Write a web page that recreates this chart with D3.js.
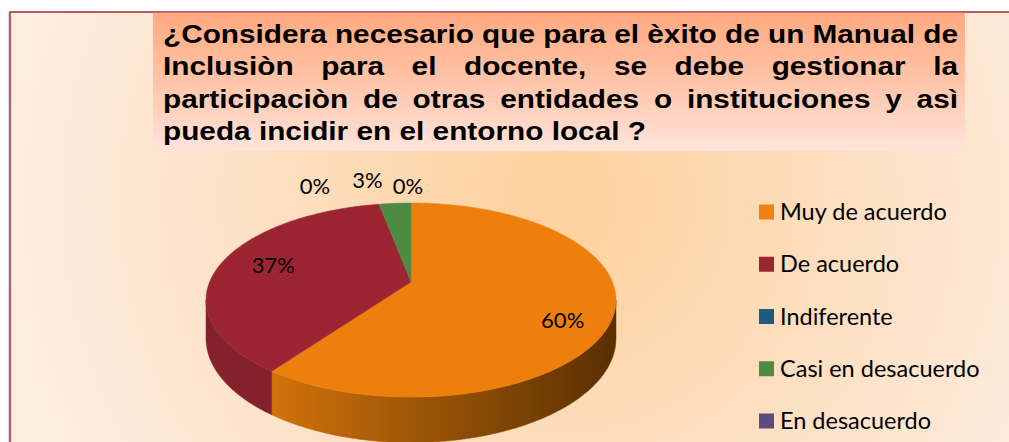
<!DOCTYPE html>
<html>
<head>
<meta charset="utf-8">
<script src="https://cdn.jsdelivr.net/npm/d3@7"></script>
<style>
  body { margin: 0; background: #fff; }
  svg { display: block; }
</style>
</head>
<body>
<svg id="chart"></svg>
<script>
// data
const categories = ["Muy de acuerdo", "De acuerdo", "Indiferente", "Casi en desacuerdo", "En desacuerdo"];
const percents = [60, 37, 0, 3, 0];
const colors = ["#ef7f0d", "#9d2533", "#1f5a80", "#4f8a43", "#5f4a7e"];
const titleLines = [
  "¿Considera necesario que para el èxito de un Manual de",
  "Inclusiòn para el docente, se debe gestionar la",
  "participaciòn de otras entidades o instituciones y asì",
  "pueda incidir en el entorno local ?"
];

const W = 1009, H = 442;
const svg = d3.select("#chart").attr("width", W).attr("height", H);
const defs = svg.append("defs");

// background of the chart area
const bg = defs.append("radialGradient").attr("id", "bg")
  .attr("gradientUnits", "userSpaceOnUse")
  .attr("cx", 560).attr("cy", 200).attr("r", 560);
bg.append("stop").attr("offset", 0).attr("stop-color", "#fdd19c");
bg.append("stop").attr("offset", 0.55).attr("stop-color", "#fde0c3");
bg.append("stop").attr("offset", 1).attr("stop-color", "#fdeee2");

const tg = defs.append("linearGradient").attr("id", "titlebg")
  .attr("x1", 0).attr("y1", 0).attr("x2", 0).attr("y2", 1);
tg.append("stop").attr("offset", 0).attr("stop-color", "#ffa97f");
tg.append("stop").attr("offset", 0.5).attr("stop-color", "#ffc4a8");
tg.append("stop").attr("offset", 1).attr("stop-color", "#fee4dc");

const rimOrange = defs.append("linearGradient").attr("id", "rimOrange")
  .attr("gradientUnits", "userSpaceOnUse")
  .attr("x1", 270).attr("y1", 0).attr("x2", 615).attr("y2", 0);
rimOrange.append("stop").attr("offset", 0).attr("stop-color", "#d2720a");
rimOrange.append("stop").attr("offset", 0.45).attr("stop-color", "#9a5408");
rimOrange.append("stop").attr("offset", 1).attr("stop-color", "#5a3002");

svg.append("line").attr("x1", 8.5).attr("x2", 8.5).attr("y1", 12).attr("y2", H)
  .attr("stroke", "#dcdcdc").attr("stroke-width", 1.5);
svg.append("rect")
  .attr("x", 10).attr("y", 12).attr("width", W + 10).attr("height", H)
  .attr("fill", "url(#bg)")
  .attr("stroke", "#a52a3a").attr("stroke-width", 1.5);

// title block
svg.append("rect")
  .attr("x", 153).attr("y", 12.75).attr("width", 812).attr("height", 138)
  .attr("fill", "url(#titlebg)");

const titleScale = 1.145;
const titleG = svg.append("g")
  .attr("transform", `translate(163,0) scale(${titleScale},1)`)
  .style("font-family", "'Liberation Sans', Arial, sans-serif")
  .style("font-weight", "bold")
  .style("font-size", "26px")
  .attr("fill", "#000");
const lineWidth = 795 / titleScale;
titleLines.forEach((line, li) => {
  const words = line.split(" ");
  const y = 43 + li * 32.3;
  const nodes = words.map(w => titleG.append("text").attr("y", y).text(w));
  const widths = nodes.map(n => n.node().getComputedTextLength());
  const total = d3.sum(widths);
  const last = li === titleLines.length - 1;
  const gap = last ? 26 * 0.278 : (lineWidth - total) / (words.length - 1);
  let x = 0;
  nodes.forEach((n, i) => { n.attr("x", x); x += widths[i] + gap; });
});

// 3D pie with a simple perspective projection
const P = { cx: 411, cy: 282, s: 201.4, se: 93.7, k: 0.186, h: 37 };
function proj(theta, f, z) {
  const X = f * Math.sin(theta), Z = -f * Math.cos(theta);
  const w = 1 - P.k * Z;
  return [P.cx + P.s * X / w, P.cy + (P.se * Z + P.h * z) / w];
}
function arcPts(a0, a1, z) {
  const n = Math.max(2, Math.ceil(Math.abs(a1 - a0) / (Math.PI / 180)));
  return d3.range(n + 1).map(i => proj(a0 + (a1 - a0) * i / n, 1, z));
}

const pie = d3.pie().sort(null).value(d => d.v);
const slices = pie(categories.map((c, i) => ({ c, v: percents[i], i })));
const line = d3.line();

const visL = Math.acos(-P.k), visR = 2 * Math.PI - Math.acos(-P.k);
const rimColors = ["url(#rimOrange)", "#83212d", "#173f5a", "#3a6a32", "#46365e"];

const pieG = svg.append("g");
// outer side of the slab
slices.forEach(d => {
  const a0 = Math.max(d.startAngle, visL), a1 = Math.min(d.endAngle, visR);
  if (a1 <= a0) return;
  const pts = arcPts(a0, a1, 0).concat(arcPts(a1, a0, 1));
  pieG.append("path").attr("d", line(pts) + "Z")
    .attr("fill", rimColors[d.data.i])
    .attr("stroke", rimColors[d.data.i]).attr("stroke-width", 0.5);
});
// top faces
slices.forEach(d => {
  if (d.endAngle - d.startAngle <= 0) return;
  const pts = [proj(0, 0, 0)].concat(arcPts(d.startAngle, d.endAngle, 0));
  pieG.append("path").attr("d", line(pts) + "Z")
    .attr("fill", colors[d.data.i])
    .attr("stroke", colors[d.data.i]).attr("stroke-width", 0.5);
});

// data labels: anchor at slice mid-angle, nudged like the original best-fit layout
const labelPlace = [
  { f: 0.7, dx: 12, dy: 17 },
  { f: 0.7, dx: -4, dy: -3 },
  { f: 1.12, dx: -61, dy: -10 },
  { f: 1.12, dx: -26, dy: -15 },
  { f: 1.12, dx: -3, dy: -9 }
];
svg.append("g")
  .style("font-family", "Lato, 'Open Sans', sans-serif")
  .style("font-size", "22px")
  .selectAll("text")
  .data(slices)
  .join("text")
    .attr("text-anchor", "middle")
    .attr("dy", "0.36em")
    .attr("x", d => proj((d.startAngle + d.endAngle) / 2, labelPlace[d.data.i].f, 0)[0] + labelPlace[d.data.i].dx)
    .attr("y", d => proj((d.startAngle + d.endAngle) / 2, labelPlace[d.data.i].f, 0)[1] + labelPlace[d.data.i].dy)
    .attr("fill", "#000")
    .text(d => d.data.v + "%");

// legend
const ly = d3.scalePoint().domain(categories).range([212, 421]);
const legend = svg.append("g")
  .style("font-family", "Lato, 'Open Sans', sans-serif")
  .style("font-size", "23.5px");
const items = legend.selectAll("g").data(categories).join("g")
  .attr("transform", d => `translate(759,${ly(d)})`);
items.append("rect").attr("x", 0).attr("y", -7.5).attr("width", 15).attr("height", 15)
  .attr("fill", (d, i) => colors[i] === "#ef7f0d" ? "#f0810f" : colors[i]);
items.append("text").attr("x", 21).attr("y", 8).attr("fill", "#000").text(d => d);
</script>
</body>
</html>
